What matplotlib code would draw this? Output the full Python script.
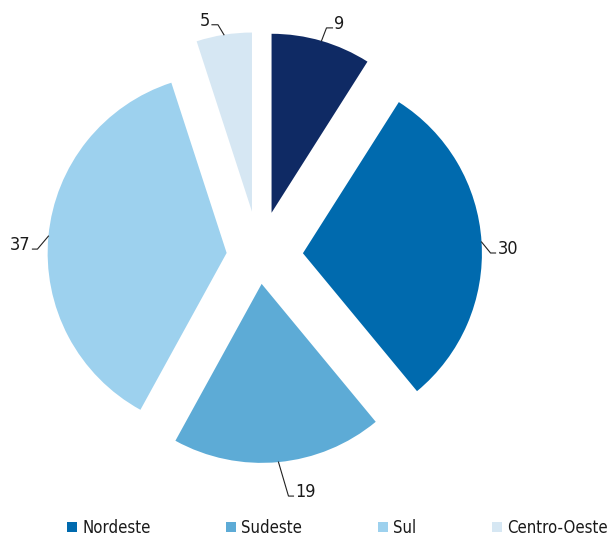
import numpy as np
import matplotlib.pyplot as plt

regioes = ['Norte', 'Nordeste', 'Sudeste', 'Sul', 'Centro-Oeste']
valores = [9, 30, 19, 37, 5]
cores = ['#0F2A64', '#006AAE', '#5DABD6', '#9DD1EE', '#D6E7F3']

# layout em pixels
W, H = 608, 538
centro = (259, H - 256)
raio = 179
afastamento = [45, 44, 28, 32.5, 45]
# linhas de chamada: deslocamento ate a dobra, depois trecho horizontal
cotovelo = [(5, 13), (9, -11), (10, -34), (-11, -13), (-6, 10)]
trecho = [6, 5, 5, -5, -6]

plt.rcParams['font.family'] = ['DejaVu Sans']
plt.rcParams['font.stretch'] = 'condensed'
fig = plt.figure(figsize=(W / 100, H / 100), dpi=100)
ax = fig.add_axes([0, 0, 1, 1])

fatias, _ = ax.pie(valores, colors=cores, startangle=90, counterclock=False,
                   radius=raio, center=centro, explode=afastamento,
                   wedgeprops=dict(linewidth=0))
ax.set_xlim(0, W)
ax.set_ylim(0, H)
ax.axis('off')

for w, v, (dx, dy), h in zip(fatias, valores, cotovelo, trecho):
    ang = np.deg2rad((w.theta1 + w.theta2) / 2)
    x0 = w.center[0] + raio * np.cos(ang)
    y0 = w.center[1] + raio * np.sin(ang)
    x1, y1 = x0 + dx, y0 + dy
    x2 = x1 + h
    ax.plot([x0, x1, x2], [y0, y1, y1], color='#222222', lw=0.8,
            solid_joinstyle='miter')
    pad = 2 if h > 0 else -2
    ax.text(x2 + pad, y1 - 1, str(v), ha='left' if h > 0 else 'right',
            va='baseline', fontsize=13, color='#1a1a1a')

fig.legend(fatias[1:], regioes[1:], loc='center left', ncol=4, frameon=False,
           bbox_to_anchor=(67 / W, 1 - 528 / H), borderaxespad=0,
           borderpad=0, columnspacing=4.55, handlelength=0.6, handleheight=0.6,
           handletextpad=0.3, fontsize=12, labelcolor='#1a1a1a')

fig.savefig('out.png', dpi=100)
